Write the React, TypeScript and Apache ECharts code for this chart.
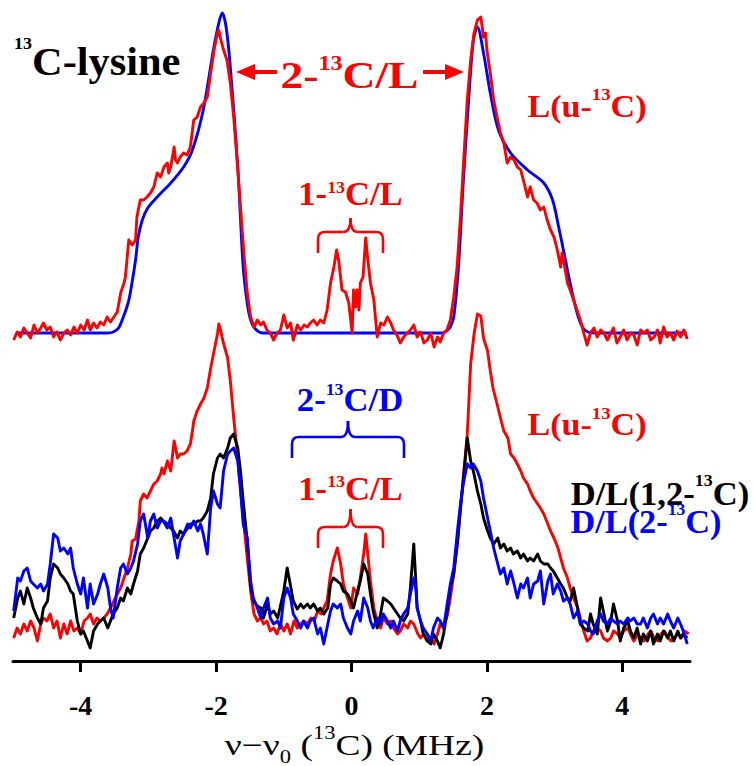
import React, { useEffect, useRef } from "react";
import * as echarts from "echarts";

// x: frequency offset (MHz), y: intensity (a.u.)
const X_TICKS = [-4, -2, 0, 2, 4];
const TOP_OFFSET = 328;

// L(u-13C) simulation (top, blue)
const TOP_SIM: [number, number][] = [
  [-4.95, 0], [-3.6, 0], [-3.52, 1], [-3.44, 5], [-3.37, 16], [-3.3, 30], [-3.26, 43], [-3.19, 73], [-3.15, 96],
  [-3.09, 113], [-3.01, 125], [-2.87, 136], [-2.67, 150], [-2.48, 166], [-2.35, 183], [-2.19, 223], [-2.04, 283],
  [-1.96, 310], [-1.91, 320], [-1.85, 305], [-1.79, 266], [-1.68, 166], [-1.6, 66], [-1.54, 30], [-1.49, 13],
  [-1.42, 4], [-1.31, 0], [1.35, 0], [1.42, 3], [1.46, 6], [1.51, 16], [1.58, 66], [1.65, 150], [1.73, 233],
  [1.8, 293], [1.86, 306], [1.95, 280], [2.05, 240], [2.17, 203], [2.35, 180], [2.6, 163], [2.84, 150], [2.97, 133],
  [3.06, 106], [3.16, 73], [3.26, 40], [3.35, 16], [3.42, 5], [3.49, 1], [3.6, 0], [4.95, 0],
];

// L(u-13C) experiment (top, red)
const TOP_EXP: [number, number][] = [
  [-4.99, -7], [-4.94, 1], [-4.89, -4], [-4.84, 5], [-4.79, 0], [-4.74, -5], [-4.69, 8], [-4.64, 0], [-4.59, 5],
  [-4.55, 10], [-4.5, 3], [-4.45, 6], [-4.4, -4], [-4.35, 1], [-4.3, -7], [-4.25, 0], [-4.2, 3], [-4.15, -2],
  [-4.1, 6], [-4.05, 0], [-4.0, 8], [-3.95, 3], [-3.9, 13], [-3.86, 3], [-3.81, 10], [-3.76, 5], [-3.71, 11],
  [-3.66, 8], [-3.61, 16], [-3.56, 11], [-3.51, 16], [-3.46, 21], [-3.41, 40], [-3.36, 50], [-3.34, 56],
  [-3.29, 93], [-3.24, 88], [-3.19, 93], [-3.17, 116], [-3.12, 133], [-3.07, 133], [-3.02, 136], [-2.97, 140],
  [-2.92, 146], [-2.87, 160], [-2.82, 156], [-2.77, 166], [-2.72, 170], [-2.7, 160], [-2.67, 166], [-2.62, 186],
  [-2.6, 173], [-2.57, 170], [-2.53, 176], [-2.48, 180], [-2.43, 178], [-2.38, 186], [-2.33, 213], [-2.28, 216],
  [-2.23, 226], [-2.18, 230], [-2.13, 236], [-2.08, 260], [-2.03, 283], [-1.98, 300], [-1.96, 303], [-1.94, 296],
  [-1.89, 283], [-1.84, 273], [-1.79, 250], [-1.74, 216], [-1.69, 173], [-1.64, 126], [-1.59, 80], [-1.54, 40],
  [-1.49, 16], [-1.44, 6], [-1.39, 13], [-1.34, 8], [-1.3, 11], [-1.25, 3], [-1.2, 0], [-1.15, -7], [-1.1, 0],
  [-1.05, 3], [-1.0, 18], [-0.95, 5], [-0.9, 10], [-0.86, -7], [-0.8, 8], [-0.75, 3], [-0.7, 8], [-0.65, 6],
  [-0.61, 10], [-0.56, 13], [-0.51, 8], [-0.46, 13], [-0.41, 10], [-0.36, 23], [-0.31, 50], [-0.26, 66],
  [-0.22, 83], [-0.19, 73], [-0.14, 43], [-0.09, 41], [-0.04, 30], [0.01, 0], [0.03, 43], [0.06, 26], [0.08, 43],
  [0.11, 23], [0.13, 50], [0.17, 56], [0.21, 95], [0.23, 80], [0.28, 50], [0.33, 33], [0.38, -4], [0.43, 10],
  [0.48, 8], [0.53, 16], [0.58, 10], [0.62, 3], [0.67, -2], [0.72, -10], [0.77, -4], [0.82, 0], [0.87, 3],
  [0.92, 8], [0.97, -4], [1.02, 1], [1.07, -10], [1.12, -7], [1.17, 0], [1.22, -14], [1.27, -4], [1.31, -9],
  [1.36, 0], [1.41, 3], [1.46, 13], [1.51, 36], [1.56, 66], [1.61, 117], [1.66, 176], [1.71, 233], [1.76, 273],
  [1.81, 300], [1.86, 313], [1.91, 316], [1.95, 296], [1.98, 300], [2.0, 283], [2.05, 260], [2.1, 233],
  [2.15, 216], [2.2, 200], [2.25, 190], [2.3, 170], [2.35, 176], [2.4, 173], [2.45, 166], [2.5, 163], [2.55, 150],
  [2.6, 136], [2.64, 146], [2.69, 133], [2.74, 130], [2.79, 123], [2.84, 126], [2.89, 113], [2.94, 103],
  [2.99, 96], [3.04, 83], [3.09, 66], [3.11, 80], [3.14, 70], [3.19, 50], [3.23, 43], [3.28, 33], [3.33, 23],
  [3.38, 13], [3.43, 0], [3.48, -12], [3.53, 0], [3.58, 5], [3.63, -4], [3.68, 3], [3.73, 0], [3.78, -7],
  [3.83, 0], [3.87, 5], [3.92, -10], [3.97, -4], [4.02, 3], [4.07, -7], [4.12, 0], [4.17, -2], [4.22, -12],
  [4.27, 3], [4.32, 0], [4.37, 3], [4.42, -7], [4.47, -4], [4.52, 3], [4.56, -10], [4.61, 6], [4.66, -4],
  [4.71, 0], [4.76, -7], [4.81, 2], [4.86, -4], [4.91, 3], [4.96, -6],
];

// L(u-13C) (bottom, red)
const BOT_L: [number, number][] = [
  [-4.99, 23], [-4.94, 33], [-4.89, 27], [-4.84, 37], [-4.79, 30], [-4.74, 40], [-4.69, 33], [-4.64, 20],
  [-4.59, 37], [-4.55, 43], [-4.5, 40], [-4.45, 47], [-4.4, 33], [-4.35, 40], [-4.3, 23], [-4.25, 37], [-4.2, 27],
  [-4.15, 40], [-4.1, 30], [-4.05, 33], [-4.0, 27], [-3.95, 40], [-3.9, 43], [-3.86, 47], [-3.81, 37], [-3.76, 43],
  [-3.71, 40], [-3.66, 43], [-3.61, 47], [-3.56, 53], [-3.51, 60], [-3.46, 67], [-3.41, 73], [-3.36, 83],
  [-3.31, 93], [-3.26, 107], [-3.24, 120], [-3.19, 122], [-3.14, 140], [-3.12, 160], [-3.07, 167], [-3.02, 163],
  [-2.97, 170], [-2.92, 177], [-2.87, 180], [-2.82, 187], [-2.8, 193], [-2.77, 187], [-2.72, 200], [-2.67, 190],
  [-2.62, 220], [-2.57, 203], [-2.53, 207], [-2.48, 207], [-2.43, 210], [-2.38, 217], [-2.35, 230], [-2.33, 240],
  [-2.28, 250], [-2.23, 257], [-2.18, 263], [-2.13, 273], [-2.08, 293], [-2.03, 310], [-1.98, 327], [-1.96, 337],
  [-1.93, 330], [-1.9, 320], [-1.83, 303], [-1.79, 280], [-1.74, 243], [-1.68, 203], [-1.64, 170], [-1.59, 137],
  [-1.54, 103], [-1.49, 70], [-1.44, 47], [-1.39, 40], [-1.34, 43], [-1.3, 37], [-1.25, 40], [-1.2, 30],
  [-1.15, 33], [-1.1, 27], [-1.05, 37], [-1.0, 30], [-0.95, 37], [-0.9, 27], [-0.85, 40], [-0.8, 33], [-0.75, 37],
  [-0.7, 40], [-0.65, 37], [-0.6, 43], [-0.55, 40], [-0.5, 50], [-0.45, 47], [-0.41, 53], [-0.36, 60], [-0.31, 87],
  [-0.27, 100], [-0.21, 113], [-0.16, 97], [-0.12, 77], [-0.06, 63], [-0.01, 53], [0.03, 73], [0.09, 67],
  [0.13, 83], [0.18, 107], [0.21, 127], [0.24, 107], [0.28, 80], [0.33, 53], [0.38, 40], [0.43, 33], [0.47, 43],
  [0.53, 37], [0.58, 40], [0.62, 33], [0.68, 27], [0.72, 30], [0.77, 37], [0.83, 33], [0.87, 40], [0.92, 37],
  [0.98, 27], [1.02, 23], [1.07, 27], [1.12, 20], [1.17, 23], [1.22, 17], [1.27, 27], [1.31, 37], [1.36, 33],
  [1.42, 47], [1.46, 63], [1.51, 87], [1.57, 120], [1.61, 153], [1.66, 190], [1.71, 227], [1.72, 240], [1.76, 297],
  [1.81, 327], [1.86, 347], [1.91, 345], [1.95, 323], [2.01, 310], [2.05, 290], [2.09, 273], [2.15, 257],
  [2.2, 243], [2.25, 230], [2.31, 223], [2.35, 207], [2.4, 203], [2.45, 197], [2.5, 190], [2.54, 183], [2.6, 177],
  [2.64, 170], [2.69, 163], [2.75, 157], [2.79, 153], [2.84, 147], [2.9, 137], [2.94, 130], [2.99, 123],
  [3.05, 113], [3.09, 103], [3.13, 93], [3.19, 83], [3.23, 73], [3.28, 63], [3.34, 53], [3.38, 43], [3.43, 30],
  [3.48, 20], [3.53, 23], [3.57, 30], [3.63, 33], [3.68, 30], [3.72, 23], [3.78, 20], [3.83, 23], [3.87, 30],
  [3.93, 27], [3.97, 23], [4.02, 30], [4.08, 33], [4.12, 27], [4.17, 20], [4.23, 27], [4.27, 23], [4.32, 20],
  [4.38, 27], [4.42, 30], [4.47, 23], [4.53, 20], [4.57, 27], [4.62, 30], [4.68, 23], [4.72, 20], [4.77, 23],
  [4.83, 27], [4.87, 23], [4.92, 30], [4.98, 27],
];

// D/L(1,2-13C) (bottom, black)
const BOT_DL12: [number, number][] = [
  [-4.99, 43], [-4.93, 63], [-4.89, 70], [-4.84, 57], [-4.79, 73], [-4.74, 63], [-4.7, 53], [-4.64, 43],
  [-4.59, 37], [-4.55, 53], [-4.49, 60], [-4.45, 83], [-4.4, 97], [-4.34, 93], [-4.3, 87], [-4.25, 83],
  [-4.19, 77], [-4.15, 70], [-4.11, 67], [-4.05, 40], [-4.0, 27], [-3.96, 30], [-3.9, 20], [-3.86, 13],
  [-3.81, 30], [-3.75, 37], [-3.71, 40], [-3.66, 43], [-3.6, 33], [-3.56, 40], [-3.52, 47], [-3.46, 53],
  [-3.41, 63], [-3.37, 60], [-3.31, 73], [-3.26, 67], [-3.22, 77], [-3.16, 90], [-3.12, 107], [-3.07, 113],
  [-3.01, 123], [-2.97, 130], [-2.92, 133], [-2.87, 140], [-2.82, 143], [-2.78, 140], [-2.72, 137], [-2.67, 133],
  [-2.63, 130], [-2.57, 123], [-2.53, 130], [-2.48, 127], [-2.42, 133], [-2.38, 137], [-2.33, 137], [-2.27, 140],
  [-2.23, 140], [-2.19, 143], [-2.13, 150], [-2.08, 163], [-2.04, 187], [-1.98, 203], [-1.94, 207], [-1.89, 203],
  [-1.83, 213], [-1.79, 223], [-1.74, 227], [-1.68, 213], [-1.64, 190], [-1.6, 160], [-1.54, 120], [-1.49, 75],
  [-1.45, 60], [-1.39, 55], [-1.34, 53], [-1.3, 43], [-1.24, 57], [-1.2, 47], [-1.15, 50], [-1.09, 43],
  [-1.05, 55], [-1.0, 70], [-0.95, 93], [-0.9, 75], [-0.86, 60], [-0.8, 52], [-0.75, 57], [-0.71, 53], [-0.65, 57],
  [-0.61, 53], [-0.56, 57], [-0.5, 50], [-0.46, 53], [-0.41, 47], [-0.35, 53], [-0.31, 77], [-0.27, 83],
  [-0.21, 80], [-0.16, 77], [-0.12, 70], [-0.06, 67], [-0.01, 60], [0.03, 53], [0.09, 70], [0.13, 80], [0.18, 97],
  [0.24, 87], [0.28, 67], [0.32, 50], [0.38, 33], [0.43, 47], [0.47, 63], [0.53, 60], [0.58, 57], [0.62, 53],
  [0.68, 47], [0.72, 43], [0.77, 40], [0.83, 47], [0.87, 73], [0.92, 117], [0.95, 80], [0.97, 53], [1.02, 40],
  [1.06, 27], [1.12, 20], [1.17, 17], [1.21, 27], [1.27, 20], [1.31, 13], [1.36, 27], [1.42, 53], [1.46, 73],
  [1.51, 87], [1.57, 123], [1.61, 153], [1.65, 180], [1.71, 223], [1.76, 200], [1.8, 190], [1.86, 170],
  [1.91, 157], [1.95, 143], [2.01, 130], [2.05, 123], [2.1, 117], [2.16, 123], [2.2, 113], [2.25, 117],
  [2.3, 110], [2.35, 113], [2.39, 107], [2.45, 110], [2.5, 103], [2.54, 107], [2.6, 100], [2.64, 103], [2.69, 100],
  [2.75, 107], [2.79, 100], [2.84, 97], [2.9, 97], [2.94, 93], [2.98, 90], [3.04, 83], [3.09, 77], [3.13, 73],
  [3.19, 63], [3.23, 60], [3.28, 73], [3.34, 53], [3.38, 37], [3.43, 33], [3.49, 30], [3.53, 47], [3.57, 37],
  [3.63, 27], [3.68, 63], [3.72, 50], [3.78, 30], [3.83, 40], [3.87, 57], [3.93, 40], [3.97, 20], [4.02, 33],
  [4.08, 40], [4.12, 30], [4.17, 23], [4.22, 33], [4.27, 17], [4.31, 27], [4.37, 20], [4.42, 30], [4.46, 17],
  [4.52, 27], [4.56, 20], [4.61, 30], [4.67, 23], [4.71, 30], [4.76, 20], [4.82, 30], [4.86, 23], [4.9, 27],
  [4.96, 23],
];

// D/L(2-13C) (bottom, blue)
const BOT_D2: [number, number][] = [
  [-4.99, 50], [-4.93, 83], [-4.89, 80], [-4.84, 90], [-4.79, 93], [-4.74, 80], [-4.7, 77], [-4.64, 73],
  [-4.59, 77], [-4.55, 70], [-4.49, 77], [-4.45, 97], [-4.4, 127], [-4.34, 123], [-4.3, 110], [-4.25, 113],
  [-4.19, 107], [-4.15, 113], [-4.11, 93], [-4.05, 77], [-4.0, 67], [-3.96, 83], [-3.9, 53], [-3.86, 77],
  [-3.81, 57], [-3.75, 67], [-3.71, 77], [-3.66, 87], [-3.6, 73], [-3.56, 53], [-3.52, 43], [-3.46, 73],
  [-3.41, 93], [-3.37, 97], [-3.31, 87], [-3.26, 93], [-3.22, 100], [-3.16, 117], [-3.12, 140], [-3.07, 147],
  [-3.01, 123], [-2.97, 140], [-2.92, 147], [-2.87, 133], [-2.82, 140], [-2.78, 140], [-2.72, 133], [-2.67, 143],
  [-2.63, 127], [-2.57, 103], [-2.53, 120], [-2.48, 127], [-2.42, 137], [-2.38, 133], [-2.33, 140], [-2.27, 130],
  [-2.23, 137], [-2.19, 127], [-2.13, 107], [-2.08, 153], [-2.04, 170], [-1.98, 157], [-1.94, 153], [-1.89, 190],
  [-1.83, 207], [-1.79, 210], [-1.74, 213], [-1.68, 200], [-1.64, 173], [-1.6, 137], [-1.54, 123], [-1.49, 80],
  [-1.45, 63], [-1.39, 53], [-1.34, 43], [-1.3, 53], [-1.24, 63], [-1.2, 43], [-1.15, 37], [-1.09, 40],
  [-1.05, 33], [-1.0, 63], [-0.95, 73], [-0.9, 63], [-0.86, 47], [-0.8, 40], [-0.75, 33], [-0.71, 40], [-0.65, 33],
  [-0.61, 40], [-0.56, 43], [-0.5, 27], [-0.46, 33], [-0.41, 17], [-0.35, 37], [-0.31, 50], [-0.27, 57],
  [-0.21, 53], [-0.16, 57], [-0.12, 43], [-0.06, 33], [-0.01, 27], [0.03, 40], [0.09, 50], [0.13, 40], [0.18, 63],
  [0.24, 53], [0.28, 40], [0.32, 33], [0.38, 43], [0.43, 37], [0.47, 47], [0.53, 40], [0.58, 33], [0.62, 40],
  [0.68, 30], [0.72, 40], [0.77, 47], [0.83, 53], [0.87, 67], [0.92, 83], [0.95, 73], [0.97, 53], [1.02, 40],
  [1.06, 33], [1.12, 27], [1.17, 20], [1.21, 33], [1.27, 43], [1.31, 40], [1.36, 33], [1.42, 60], [1.46, 77],
  [1.51, 93], [1.57, 133], [1.61, 157], [1.65, 177], [1.71, 197], [1.76, 193], [1.8, 197], [1.86, 190],
  [1.91, 180], [1.95, 163], [2.01, 143], [2.05, 130], [2.1, 113], [2.16, 97], [2.2, 87], [2.25, 93], [2.3, 77],
  [2.35, 90], [2.39, 80], [2.45, 63], [2.5, 77], [2.54, 73], [2.6, 83], [2.64, 63], [2.69, 77], [2.75, 80],
  [2.79, 90], [2.84, 57], [2.9, 80], [2.94, 87], [2.98, 67], [3.04, 77], [3.09, 70], [3.13, 60], [3.19, 63],
  [3.23, 57], [3.28, 43], [3.34, 50], [3.38, 37], [3.43, 40], [3.49, 37], [3.53, 30], [3.57, 27], [3.63, 40],
  [3.68, 47], [3.72, 40], [3.78, 37], [3.83, 43], [3.87, 40], [3.93, 37], [3.97, 40], [4.02, 37], [4.08, 43],
  [4.12, 40], [4.17, 43], [4.22, 37], [4.27, 37], [4.31, 43], [4.37, 33], [4.42, 43], [4.46, 47], [4.52, 37],
  [4.56, 43], [4.61, 37], [4.67, 47], [4.71, 40], [4.76, 33], [4.82, 43], [4.86, 37], [4.9, 30], [4.96, 17],
];

const RED = "#ff0000";
const BLUE = "#0000ff";
const BLACK = "#000000";
const SERIF = "Liberation Serif, Times New Roman, serif";

type Part = [string, "m" | "s" | "b"];

function richLabel(
  x: number,
  y: number,
  parts: Part[],
  color: string,
  F: number,
  S: number,
  offset: number,
  scaleX: number,
  align: "left" | "center" = "center",
  bold = true
) {
  const LH = 2 * offset + S;
  const text = parts.map(([t, k]) => `{${k}|${t}}`).join("");
  const weight = bold ? "bold" : "normal";
  return {
    type: "text",
    x,
    y,
    scaleX,
    silent: true,
    style: {
      text,
      fill: color,
      align,
      textAlign: align,
      verticalAlign: "middle",
      textVerticalAlign: "middle",
      rich: {
        m: { fontSize: F, fontFamily: SERIF, fontWeight: weight, fill: color, lineHeight: LH, verticalAlign: "middle" },
        s: { fontSize: S, fontFamily: SERIF, fontWeight: weight, fill: color, lineHeight: S, verticalAlign: "top" },
        b: { fontSize: S, fontFamily: SERIF, fontWeight: weight, fill: color, lineHeight: S, verticalAlign: "bottom" },
      },
    },
  };
}

function brace(x0: number, x1: number, yH: number, yTip: number, yCusp: number, color: string) {
  const r = 7;
  const xc = (x0 + x1) / 2;
  const st = { stroke: color, lineWidth: 2.6, fill: "none" };
  return [
    { type: "line", silent: true, shape: { x1: x0, y1: yTip, x2: x0, y2: yH + r }, style: st },
    { type: "bezierCurve", silent: true, shape: { x1: x0, y1: yH + r, cpx1: x0, cpy1: yH, x2: x0 + r, y2: yH }, style: st },
    { type: "line", silent: true, shape: { x1: x0 + r, y1: yH, x2: xc - r, y2: yH }, style: st },
    { type: "bezierCurve", silent: true, shape: { x1: xc - r, y1: yH, cpx1: xc, cpy1: yH, x2: xc, y2: yCusp }, style: st },
    { type: "bezierCurve", silent: true, shape: { x1: xc, y1: yCusp, cpx1: xc, cpy1: yH, x2: xc + r, y2: yH }, style: st },
    { type: "line", silent: true, shape: { x1: xc + r, y1: yH, x2: x1 - r, y2: yH }, style: st },
    { type: "bezierCurve", silent: true, shape: { x1: x1 - r, y1: yH, cpx1: x1, cpy1: yH, x2: x1, y2: yH + r }, style: st },
    { type: "line", silent: true, shape: { x1: x1, y1: yH + r, x2: x1, y2: yTip }, style: st },
  ];
}

export default function App() {
  const ref = useRef<HTMLDivElement>(null);
  useEffect(() => {
    document.body.style.margin = "0";
    const chart = echarts.init(ref.current as HTMLDivElement, null, { renderer: "svg" });
    const shift = (d: [number, number][], off: number) => d.map(([x, y]) => [x, y + off]);
    const mk = (name: string, data: number[][], color: string, smooth: number | boolean = false) => ({
      type: "line",
      name,
      data,
      symbol: "none",
      showSymbol: false,
      smooth,
      silent: true,
      lineStyle: { color, width: 2.9, join: "round" },
    });
    chart.setOption({
      animation: false,
      backgroundColor: "#ffffff",
      grid: { left: 13, right: 63, top: 0, bottom: 105 },
      xAxis: {
        type: "value",
        min: -5,
        max: 5,
        axisLine: { lineStyle: { color: BLACK, width: 3 } },
        axisTick: { show: true, customValues: X_TICKS, length: 11, lineStyle: { color: BLACK, width: 3 } },
        axisLabel: {
          customValues: X_TICKS,
          fontFamily: SERIF,
          fontWeight: "bold",
          fontSize: 28,
          color: BLACK,
          margin: 30,
        },
        splitLine: { show: false },
      },
      yAxis: { type: "value", min: 0, max: 661, show: false },
      series: [
        mk("L(u-13C) simulation", shift(TOP_SIM, TOP_OFFSET), BLUE, 0.3),
        mk("L(u-13C)", shift(TOP_EXP, TOP_OFFSET), RED),
        mk("L(u-13C) bottom", BOT_L, RED),
        mk("D/L(1,2-13C)", BOT_DL12, BLACK),
        mk("D/L(2-13C)", BOT_D2, BLUE),
      ],
      graphic: [
        richLabel(14, 61, [["13", "s"], ["C-lysine", "m"]], BLACK, 40, 17, 18, 1.06, "left"),
        richLabel(349.5, 75, [["2-", "m"], ["13", "s"], ["C/L", "m"]], RED, 38, 20, 12, 1.2),
        { type: "line", silent: true, shape: { x1: 250, y1: 72, x2: 277, y2: 72 }, style: { stroke: RED, lineWidth: 4 } },
        { type: "polygon", silent: true, shape: { points: [[236, 72], [255, 64], [255, 80]] }, style: { fill: RED } },
        { type: "line", silent: true, shape: { x1: 423, y1: 72, x2: 450, y2: 72 }, style: { stroke: RED, lineWidth: 4 } },
        { type: "polygon", silent: true, shape: { points: [[464, 72], [445, 64], [445, 80]] }, style: { fill: RED } },
        richLabel(587, 107, [["L(u-", "m"], ["13", "s"], ["C)", "m"]], RED, 31, 17, 13, 1.1),
        richLabel(350.5, 194, [["1-", "m"], ["13", "s"], ["C/L", "m"]], RED, 33, 17, 7, 1.05),
        ...brace(318, 383, 232, 253, 218, RED),
        richLabel(350, 400, [["2-", "m"], ["13", "s"], ["C/D", "m"]], BLUE, 33, 17, 11, 1.05),
        ...brace(292, 404, 437, 458, 421, BLUE),
        richLabel(350.5, 489, [["1-", "m"], ["13", "s"], ["C/L", "m"]], RED, 33, 17, 8, 1.05),
        ...brace(318, 383, 527, 548, 509, RED),
        richLabel(587, 425, [["L(u-", "m"], ["13", "s"], ["C)", "m"]], RED, 31, 17, 12, 1.1),
        richLabel(660, 494, [["D/L(1,2-", "m"], ["13", "s"], ["C)", "m"]], BLACK, 33, 17, 14, 1.05),
        richLabel(646, 522, [["D/L(2-", "m"], ["13", "s"], ["C)", "m"]], BLUE, 33, 17, 12, 1.04),
        richLabel(354.5, 745, [["ν−ν", "m"], ["0", "b"], [" (", "m"], ["13", "s"], ["C) (MHz)", "m"]], BLACK, 30, 18, 12, 1.25, "center", false),
      ],
    });
    return () => chart.dispose();
  }, []);
  return <div ref={ref} style={{ width: 753, height: 766 }} />;
}
